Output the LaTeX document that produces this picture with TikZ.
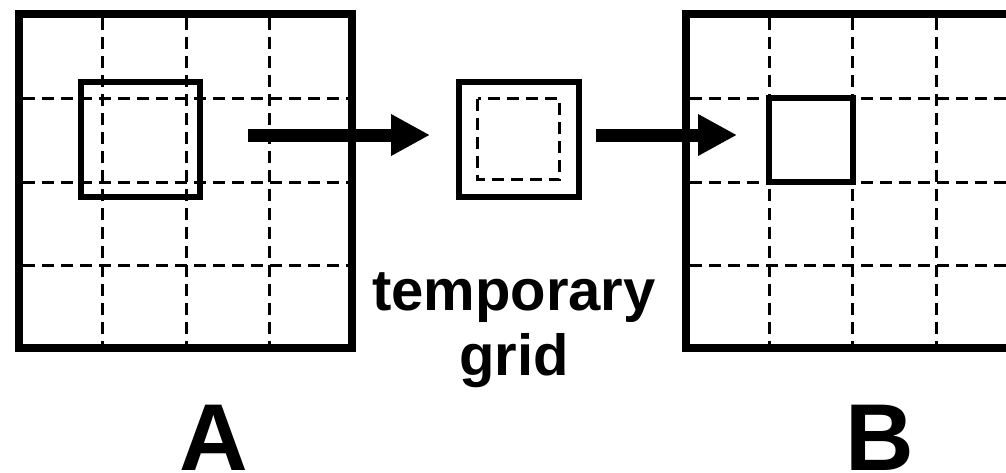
\documentclass[tikz,border=0pt]{standalone}
\usepackage{fontspec}
\setsansfont{Liberation Sans}
\usetikzlibrary{arrows.meta}

\begin{document}
\begin{tikzpicture}[x=1pt, y=-1pt,
  frame/.style={draw, line width=8pt, minimum width=333pt, minimum height=334pt, inner sep=0pt},
  win/.style={draw, line width=6pt, minimum width=119pt, minimum height=115pt, inner sep=0pt},
  cell/.style={draw, line width=6pt, minimum size=84pt, inner sep=0pt},
  gridline/.style={line width=3pt, dash pattern=on 12pt off 7pt},
  arr/.style={line width=13pt, -{Triangle[length=39pt, width=39pt]}},
  lbl/.style={font=\sffamily\bfseries\fontsize{58}{65}\selectfont, align=center},
  big/.style={font=\sffamily\bfseries\fontsize{95}{95}\selectfont}
]
  \clip (0,0) rectangle (1006,472);

  % dashed grids
  \foreach \x in {102,186,269} \draw[gridline] (\x,18) -- (\x,344);
  \foreach \y in {98,182,265} \draw[gridline] (23,\y) -- (348,\y);
  \foreach \x in {769,852,936} \draw[gridline] (\x,18) -- (\x,344);
  \foreach \y in {98,182,265} \draw[gridline] (690,\y) -- (1010,\y);

  % grid A
  \node[frame] (gridA) at (185.5,181) {};
  \node[win] (winA) at (140.5,139.5) {};
  \coordinate (startA) at (248,135);

  % temporary grid
  \node[win, minimum width=120pt] (tmp) at (519,139.5) {};
  \draw[gridline] (477.5,98.5) rectangle (559.5,179.5);

  % grid B
  \node[frame] (gridB) at (852.5,181) {};
  \node[cell] (cellB) at (810.5,140) {};
  \coordinate (endB) at (737,135);

  \draw[arr, shorten >=26pt] (startA) -- (startA -| tmp.west);
  \draw[arr, shorten <=14pt] (endB -| tmp.east) -- (endB);

  \node[lbl, anchor=base] (tmplbl) at (514,375) {temporary\\grid};
  \node[big, anchor=base] (labA) at (214,470) {A};
  \node[big, anchor=base] (labB) at (880,470) {B};
\end{tikzpicture}
\end{document}
